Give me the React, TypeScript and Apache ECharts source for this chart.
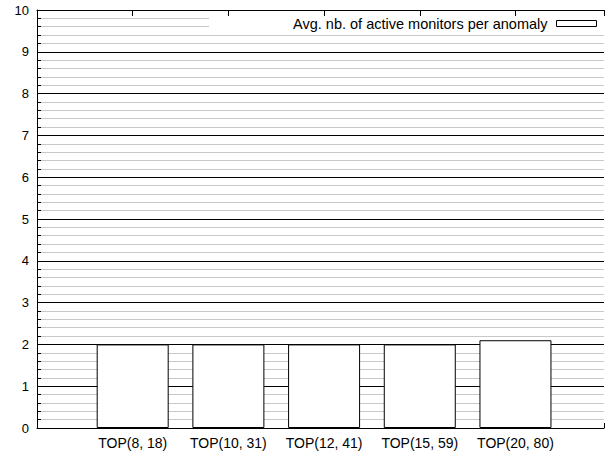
import React, { useEffect, useRef } from "react";
import * as echarts from "echarts";

const categories = ["TOP(8, 18)", "TOP(10, 31)", "TOP(12, 41)", "TOP(15, 59)", "TOP(20, 80)"];
const positions = [0, 1, 2, 3, 4];
const avgMonitors = [2.0, 2.0, 2.0, 2.0, 2.1];
const seriesName = "Avg. nb. of active monitors per anomaly";

const FONT = "'Liberation Sans', Arial, Helvetica, sans-serif";

export default function App() {
  const ref = useRef<HTMLDivElement>(null);
  useEffect(() => {
    if (!ref.current) return;
    const chart = echarts.init(ref.current, undefined, { renderer: "svg" });
    const xMin = -1;
    const xMax = -1 + 570 / 96.2;
    chart.setOption({
      animation: false,
      backgroundColor: "#ffffff",
      grid: { left: 37, right: 0, top: 10, bottom: 31, containLabel: false },
      legend: {
        data: [seriesName],
        right: 10,
        top: 16,
        align: "right",
        padding: 0,
        itemWidth: 40,
        itemHeight: 6,
        icon: "rect",
        selectedMode: false,
        itemStyle: { color: "#ffffff", borderColor: "#000", borderWidth: 1 },
        textStyle: { fontFamily: FONT, fontSize: 14.5, color: "#000", padding: [0, 4, 0, 0] },
        z: 10,
      },
      graphic: [
        {
          type: "rect",
          z: 5,
          shape: { x: 209, y: 13, width: 420, height: 19 },
          style: { fill: "#ffffff" },
        },
      ],
      xAxis: [
        {
          type: "value",
          position: "bottom",
          min: xMin,
          max: xMax,
          interval: 1,
          axisLine: { show: true, onZero: false, lineStyle: { color: "#000", width: 1 } },
          axisTick: { show: true, inside: true, length: 5, lineStyle: { color: "#000" } },
          splitLine: { show: false },
          axisLabel: {
            show: true,
            margin: 8,
            fontFamily: FONT,
            fontSize: 14,
            color: "#000",
            showMinLabel: true,
            showMaxLabel: true,
            formatter: (v: number) => {
              const i = positions.indexOf(Math.round(v * 1000) / 1000);
              return i >= 0 ? categories[i] : "";
            },
          },
        },
        {
          type: "value",
          position: "top",
          min: xMin,
          max: xMax,
          interval: 1,
          z: 8,
          axisLine: { show: true, onZero: false, lineStyle: { color: "#000", width: 1 } },
          axisTick: { show: true, inside: true, length: 6, lineStyle: { color: "#000", width: 1 } },
          splitLine: { show: false },
          axisLabel: { show: false },
        },
      ],
      yAxis: {
        type: "value",
        position: "left",
        min: 0,
        max: 10,
        interval: 1,
        axisLine: { show: true, onZero: false, lineStyle: { color: "#000", width: 1 } },
        axisTick: { show: true, inside: true, length: 6, lineStyle: { color: "#000" } },
        minorTick: { show: true, splitNumber: 5, length: 4, lineStyle: { color: "#000" } },
        splitLine: { show: true, lineStyle: { color: "#000", width: 1 } },
        minorSplitLine: { show: true, lineStyle: { color: "#c8c8c8", width: 1 } },
        axisLabel: { margin: 8, fontFamily: FONT, fontSize: 13, color: "#000" },
      },
      series: [
        {
          name: seriesName,
          type: "bar",
          xAxisIndex: 0,
          barWidth: 72,
          data: positions.map((p, i) => [p, avgMonitors[i]]),
          itemStyle: { color: "#ffffff", borderColor: "#000", borderWidth: 1 },
          z: 2,
        },
      ],
    });
    return () => chart.dispose();
  }, []);
  return (
    <div
      ref={ref}
      style={{ position: "fixed", left: 0, top: 0, width: 607, height: 459, background: "#fff" }}
    />
  );
}
